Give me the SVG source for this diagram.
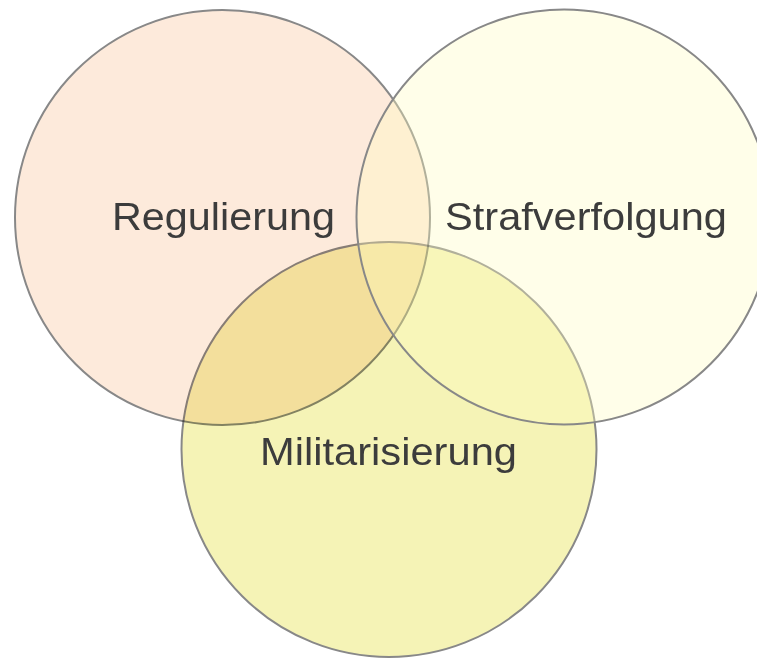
<svg xmlns="http://www.w3.org/2000/svg" width="757" height="658" viewBox="0 0 757 658">
<style>
.c{stroke:#888888;stroke-width:2}
.t{font-family:"Liberation Sans",Arial,sans-serif;font-size:39px;fill:#3c3c3c}
</style>
<rect width="757" height="658" fill="#ffffff"/>
<g id="militarisierung">
<circle class="c" cx="389" cy="449.5" r="207.5" fill="#f5f3b6"/>
</g>
<g id="regulierung" style="mix-blend-mode:multiply">
<circle class="c" cx="222.5" cy="217.5" r="207.5" fill="#fdeadb"/>
</g>
<g id="strafverfolgung">
<circle class="c" cx="564" cy="217" r="207.5" fill="#fffcc0" fill-opacity="0.35"/>
</g>
<g id="connectors"></g>
<g id="labels">
<text class="t" x="112" y="230" textLength="223" lengthAdjust="spacingAndGlyphs">Regulierung</text>
<text class="t" x="445" y="230" textLength="282" lengthAdjust="spacingAndGlyphs">Strafverfolgung</text>
<text class="t" x="260" y="465" textLength="257" lengthAdjust="spacingAndGlyphs">Militarisierung</text>
</g>
</svg>
